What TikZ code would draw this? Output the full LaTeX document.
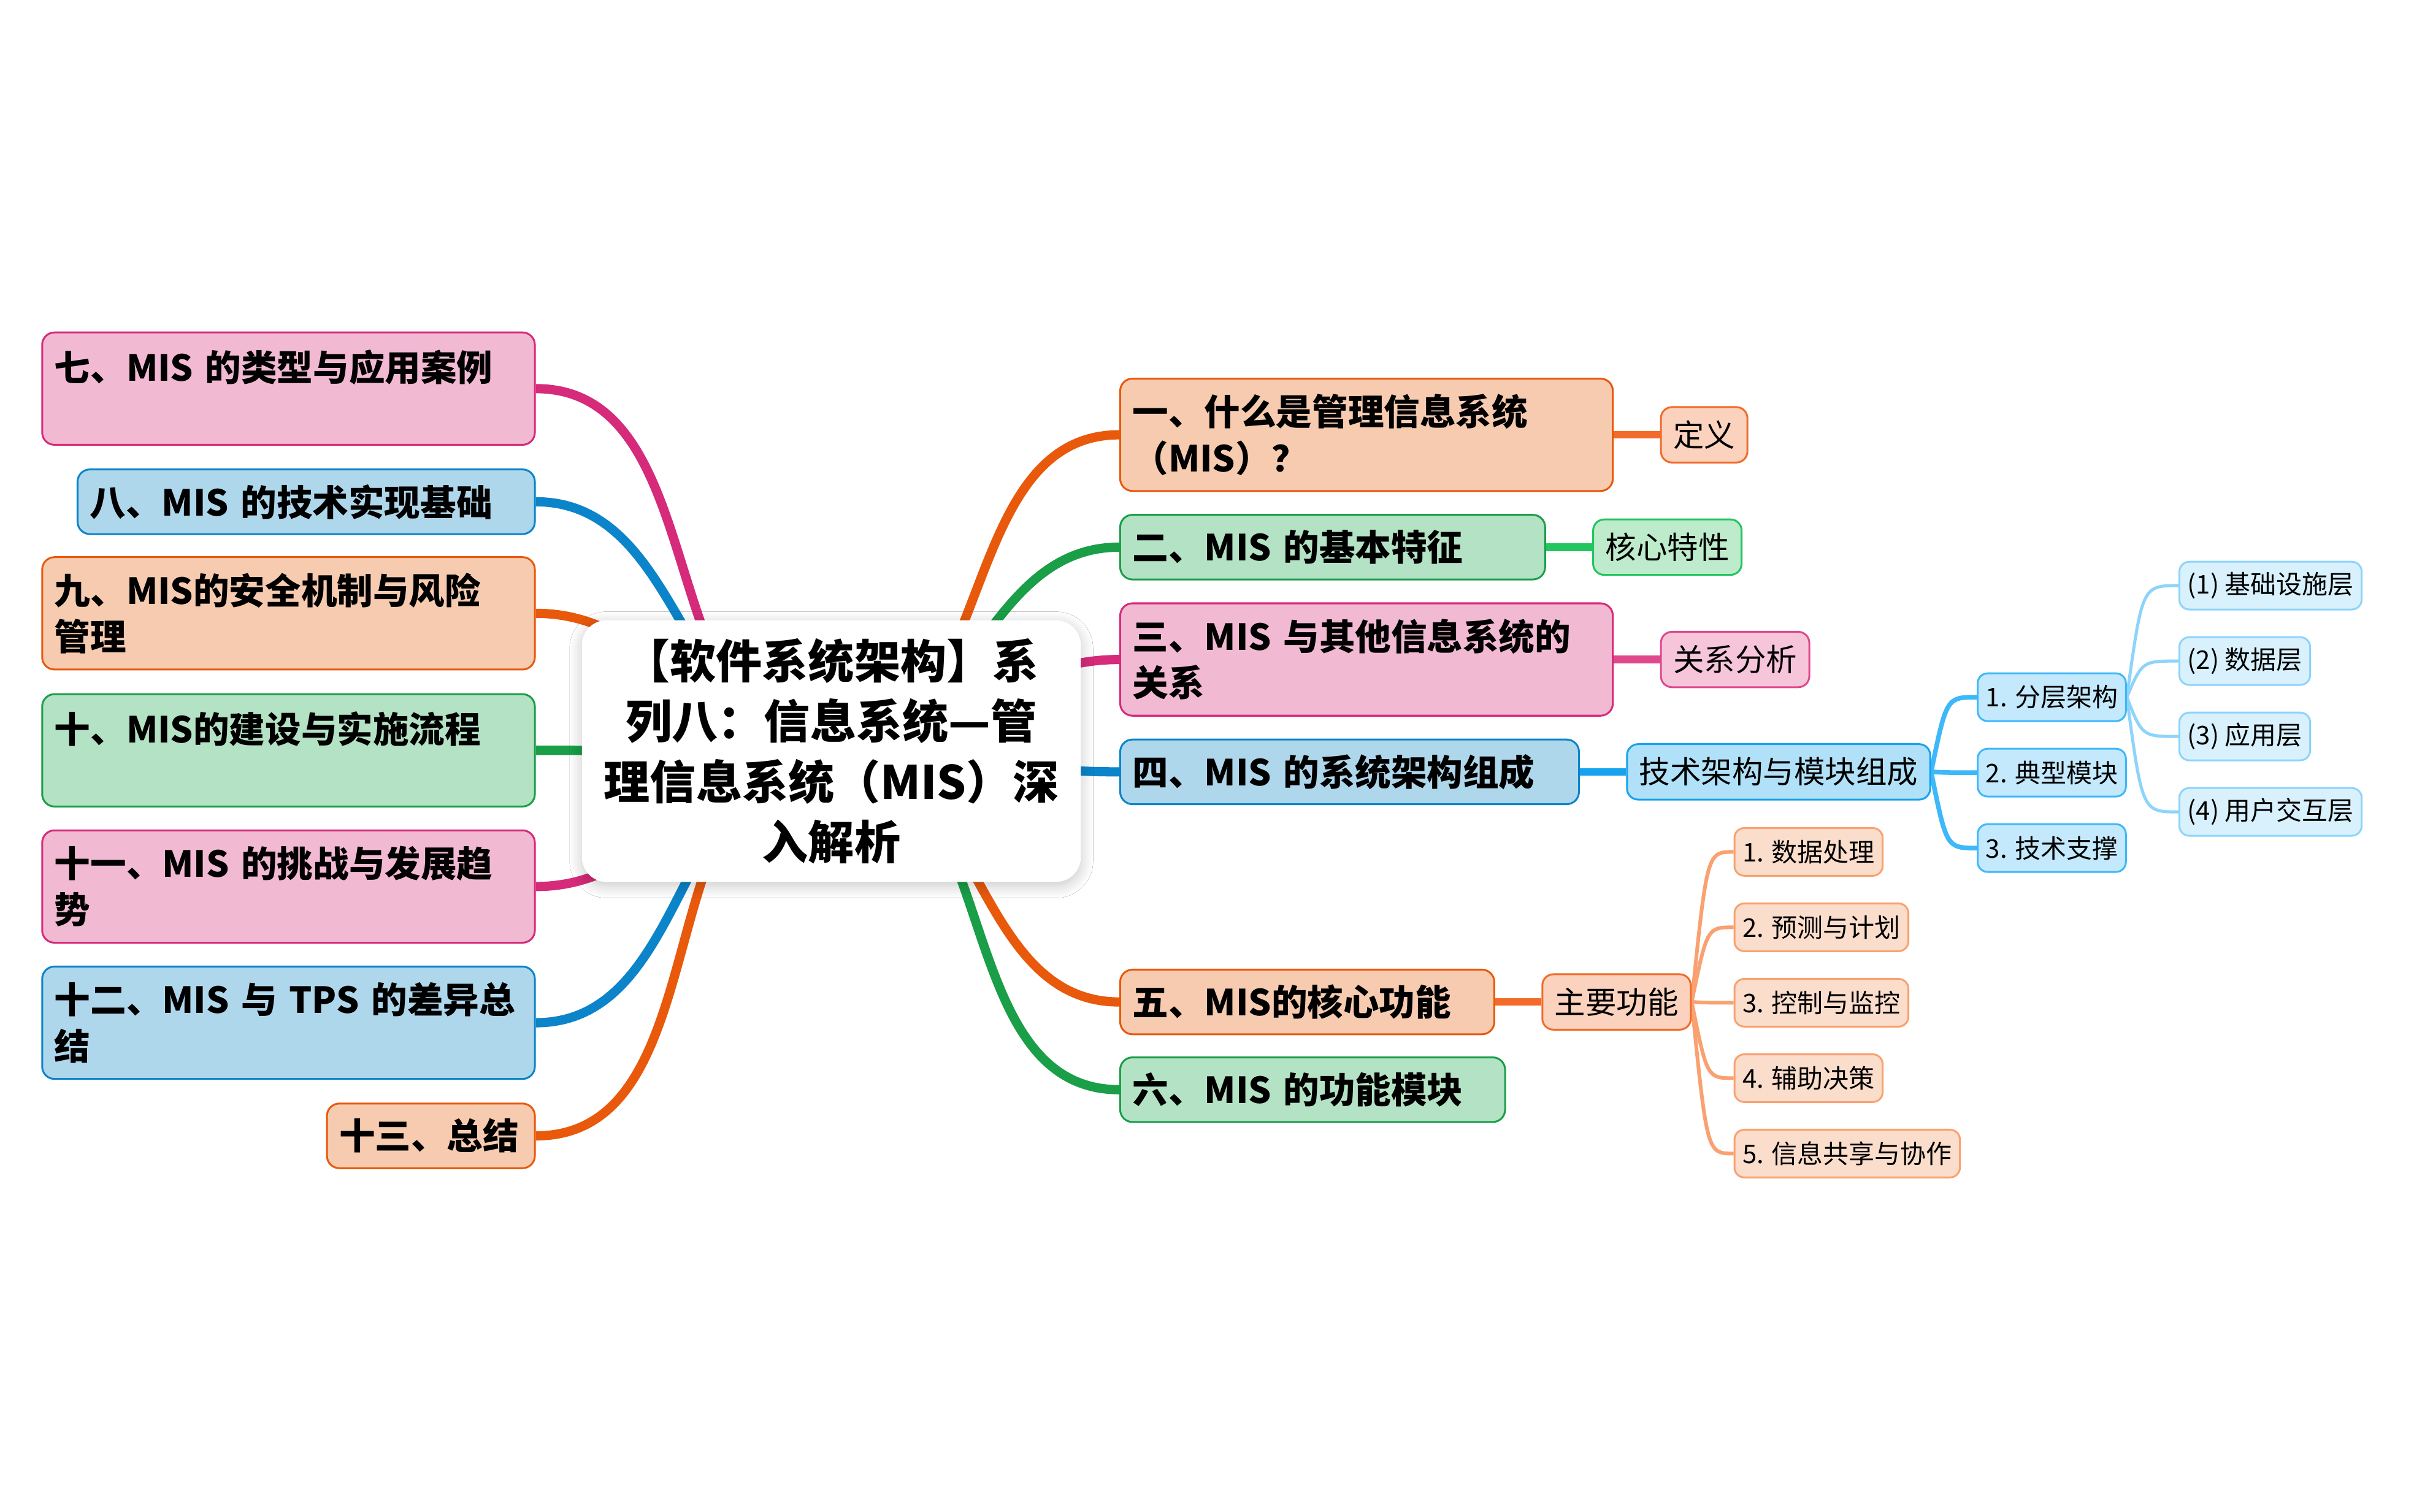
\documentclass[tikz,border=0pt]{standalone}
\usepackage{fontspec}
\setmainfont{Noto Sans CJK SC}
\usepackage{tikz}
\usetikzlibrary{positioning, calc, backgrounds, shadows.blur}

\definecolor{orgline}{HTML}{E8590C}
\definecolor{orgfill}{HTML}{F7CBB0}
\definecolor{grnline}{HTML}{1A9E48}
\definecolor{grnfill}{HTML}{B4E2C5}
\definecolor{pnkline}{HTML}{D62A7A}
\definecolor{pnkfill}{HTML}{F2B9D3}
\definecolor{bluline}{HTML}{0B84CA}
\definecolor{blufill}{HTML}{AFD7EC}
\definecolor{orgtwoline}{HTML}{F26B2A}
\definecolor{orgtwofill}{HTML}{FAD2BE}
\definecolor{grntwoline}{HTML}{22C55E}
\definecolor{grntwofill}{HTML}{BDEBCB}
\definecolor{pnktwoline}{HTML}{E0488C}
\definecolor{pnktwofill}{HTML}{F6C5DA}
\definecolor{blutwoline}{HTML}{17A2F0}
\definecolor{blutwofill}{HTML}{B1E1F8}
\definecolor{bluthreeline}{HTML}{3DB8F9}
\definecolor{bluthreefill}{HTML}{C4E9FC}
\definecolor{blufourline}{HTML}{8DD4FB}
\definecolor{blufourfill}{HTML}{D8F1FD}
\definecolor{orgthreeline}{HTML}{F9A170}
\definecolor{orgthreefill}{HTML}{FBDDCC}

\tikzset{
	topic/.style={rectangle, rounded corners=2mm, line width=0.3mm, inner xsep=2mm, inner ysep=1mm, align=left, font=\fontsize{16.6pt}{21.3pt}\selectfont\bfseries},
	sub/.style={rectangle, rounded corners=1.8mm, line width=0.3mm, inner xsep=2mm, inner ysep=0.5mm, minimum height=9mm, font=\fontsize{14.3pt}{17pt}\selectfont},
	leaf/.style={rectangle, rounded corners=1.6mm, line width=0.3mm, inner xsep=1.3mm, inner ysep=0.5mm, minimum height=7.75mm, font=\fontsize{11.9pt}{14pt}\selectfont},
	branch/.style={line width=1.5mm},
	twig/.style={to path={.. controls ($(\tikztostart |- \tikztotarget)+(2.5mm,0)$) .. (\tikztotarget)}}
}

\begin{document}
\begin{tikzpicture}[x=0.25mm, y=-0.25mm]
			\useasboundingbox (0,0) rectangle (1568,982);
			
			\node[rectangle, rounded corners=4mm, fill=white, minimum width=81mm, minimum height=42.5mm, text width=76mm, align=center, font=\fontsize{21.3pt}{27.9pt}\selectfont\bfseries, blur shadow={shadow xshift=0mm, shadow yshift=-0.6mm, shadow blur radius=2mm, shadow blur steps=12, shadow opacity=22}] (root) at (540,488) {【软件系统架构】系\\列八：信息系统—管\\理信息系统（MIS）深\\入解析};
			
			\node[topic, draw=orgline, fill=orgfill, text width=76mm, minimum height=18.25mm, anchor=west] (what) at (727,282.5) {一、什么是管理信息系统\\（MIS）？};
			\node[topic, draw=grnline, fill=grnfill, text width=65mm, minimum height=10.5mm, anchor=west] (feat) at (727,355.5) {二、MIS 的基本特征};
			\node[topic, draw=pnkline, fill=pnkfill, text width=76mm, minimum height=18.25mm, anchor=west] (rel) at (727,428.5) {三、MIS 与其他信息系统的\\关系};
			\node[topic, draw=bluline, fill=blufill, text width=70.5mm, minimum height=10.5mm, anchor=west] (arch) at (727,501.5) {四、MIS 的系统架构组成};
			\node[topic, draw=orgline, fill=orgfill, text width=56.75mm, minimum height=10.5mm, anchor=west] (func) at (727,651) {五、MIS的核心功能};
			\node[topic, draw=grnline, fill=grnfill, text width=58.5mm, minimum height=10.5mm, anchor=west] (mods) at (727,708) {六、MIS 的功能模块};
			
			\node[topic, draw=pnkline, fill=pnkfill, text width=76mm, minimum height=18.25mm, anchor=east] (cases) at (348,252.5) {七、MIS 的类型与应用案例\\\mbox{}};
			\node[topic, draw=bluline, fill=blufill, text width=70.25mm, minimum height=10.5mm, anchor=east] (tech) at (348,326) {八、MIS 的技术实现基础};
			\node[topic, draw=orgline, fill=orgfill, text width=76mm, minimum height=18.25mm, anchor=east] (sec) at (348,398.5) {九、MIS的安全机制与风险\\管理};
			\node[topic, draw=grnline, fill=grnfill, text width=76mm, minimum height=18.25mm, anchor=east] (impl) at (348,487.5) {十、MIS的建设与实施流程\\\mbox{}};
			\node[topic, draw=pnkline, fill=pnkfill, text width=76mm, minimum height=18.25mm, anchor=east] (trend) at (348,576) {十一、MIS 的挑战与发展趋\\势};
			\node[topic, draw=bluline, fill=blufill, text width=76mm, minimum height=18.25mm, anchor=east] (tps) at (348,664.5) {十二、MIS 与 TPS 的差异总\\结};
			\node[topic, draw=orgline, fill=orgfill, text width=29.75mm, minimum height=10.5mm, anchor=east] (sum) at (348,738) {十三、总结};
			
			\node[sub, draw=orgtwoline, fill=orgtwofill, right=7.5mm of what] (def) {定义};
			\node[sub, draw=grntwoline, fill=grntwofill, right=7.5mm of feat] (core) {核心特性};
			\node[sub, draw=pnktwoline, fill=pnktwofill, right=7.5mm of rel] (ana) {关系分析};
			\node[sub, draw=blutwoline, fill=blutwofill, right=7.5mm of arch] (stack) {技术架构与模块组成};
			\node[sub, draw=orgtwoline, fill=orgtwofill, right=7.5mm of func] (main) {主要功能};
			
			\node[leaf, draw=bluthreeline, fill=bluthreefill, anchor=west] (layer) at (1284,453) {1. 分层架构};
			\node[leaf, draw=bluthreeline, fill=bluthreefill, anchor=west] (typmod) at (1284,502) {2. 典型模块};
			\node[leaf, draw=bluthreeline, fill=bluthreefill, anchor=west] (supp) at (1284,551) {3. 技术支撑};
			
			\node[leaf, draw=blufourline, fill=blufourfill, anchor=west] (infra) at (1415,380.5) {(1) 基础设施层};
			\node[leaf, draw=blufourline, fill=blufourfill, anchor=west] (dlay) at (1415,429.5) {(2) 数据层};
			\node[leaf, draw=blufourline, fill=blufourfill, anchor=west] (alay) at (1415,478.5) {(3) 应用层};
			\node[leaf, draw=blufourline, fill=blufourfill, anchor=west] (ulay) at (1415,527.5) {(4) 用户交互层};
			
			\node[leaf, draw=orgthreeline, fill=orgthreefill, anchor=west] (fa) at (1126,553.5) {1. 数据处理};
			\node[leaf, draw=orgthreeline, fill=orgthreefill, anchor=west] (fb) at (1126,602.5) {2. 预测与计划};
			\node[leaf, draw=orgthreeline, fill=orgthreefill, anchor=west] (fc) at (1126,651.5) {3. 控制与监控};
			\node[leaf, draw=orgthreeline, fill=orgthreefill, anchor=west] (fd) at (1126,700.5) {4. 辅助决策};
			\node[leaf, draw=orgthreeline, fill=orgthreefill, anchor=west] (fe) at (1126,749.5) {5. 信息共享与协作};
			
			\begin{scope}[on background layer]
				\fill[white] (0,0) rectangle (1568,982);
				\foreach \n/\c in {what/orgline, feat/grnline, rel/pnkline, arch/bluline, func/orgline, mods/grnline}
					\draw[branch, draw=\c] (root.center) to[out=0, in=180] (\n.west);
				\foreach \n/\c in {cases/pnkline, tech/bluline, sec/orgline, impl/grnline, trend/pnkline, tps/bluline, sum/orgline}
					\draw[branch, draw=\c] (root.center) to[out=180, in=0] (\n.east);
				
				\draw[line width=1.25mm, orgtwoline] (what.east) -- (def.west);
				\draw[line width=1.25mm, grntwoline] (feat.east) -- (core.west);
				\draw[line width=1.25mm, pnktwoline] (rel.east) -- (ana.west);
				\draw[line width=1.25mm, blutwoline] (arch.east) -- (stack.west);
				\draw[line width=1.25mm, orgtwoline] (func.east) -- (main.west);
				
				\foreach \c in {layer, typmod, supp}
					\draw[line width=0.75mm, bluthreeline, twig] (stack.east) to (\c.west);
				\foreach \c in {infra, dlay, alay, ulay}
					\draw[line width=0.5mm, blufourline, twig] (layer.east) to (\c.west);
				\foreach \c in {fa, fb, fc, fd, fe}
					\draw[line width=0.6mm, orgthreeline, twig] (main.east) to (\c.west);
			\end{scope}
		\end{tikzpicture}
\end{document}
